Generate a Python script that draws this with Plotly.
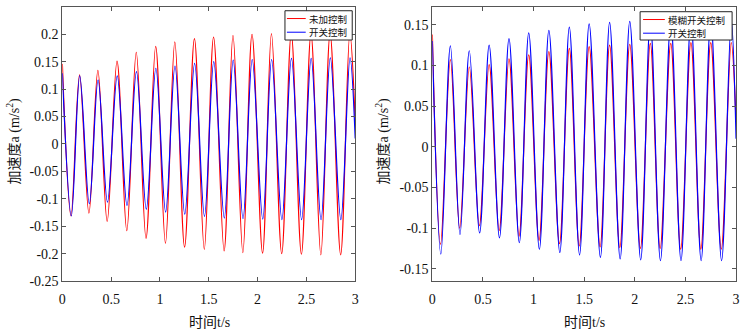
import plotly.graph_objects as go

# ---------------- data ----------------
# Left panel: 未加控制 (red) vs 开关控制 (blue)
L_red_start, L_red_end = 0.146, 0.040
L_blue_start, L_blue_end = 0.129, 0.010
L_red_trough_t = [0.088, 0.272, 0.459, 0.660, 0.857, 1.056, 1.252, 1.454, 1.657, 1.849, 2.051, 2.247, 2.449, 2.648, 2.851]
L_red_trough_v = [-0.131, -0.126, -0.141, -0.158, -0.172, -0.181, -0.188, -0.192, -0.195, -0.198, -0.199, -0.200, -0.201, -0.202, -0.202]
L_red_peak_t = [0.176, 0.364, 0.560, 0.757, 0.956, 1.152, 1.353, 1.549, 1.748, 1.943, 2.142, 2.345, 2.547, 2.743, 2.945]
L_red_peak_v = [0.126, 0.134, 0.151, 0.167, 0.178, 0.186, 0.192, 0.195, 0.198, 0.200, 0.201, 0.201, 0.201, 0.201, 0.201]
L_blue_trough_t = [0.092, 0.276, 0.462, 0.662, 0.860, 1.058, 1.254, 1.456, 1.659, 1.851, 2.053, 2.249, 2.451, 2.650, 2.853]
L_blue_trough_v = [-0.131, -0.109, -0.106, -0.112, -0.119, -0.124, -0.128, -0.132, -0.135, -0.136, -0.137, -0.138, -0.138, -0.138, -0.138]
L_blue_peak_t = [0.178, 0.366, 0.562, 0.759, 0.958, 1.154, 1.355, 1.551, 1.750, 1.945, 2.144, 2.347, 2.549, 2.745, 2.947]
L_blue_peak_v = [0.124, 0.117, 0.124, 0.132, 0.138, 0.142, 0.147, 0.150, 0.153, 0.154, 0.154, 0.156, 0.156, 0.157, 0.157]

# Right panel: 模糊开关控制 (red) vs 开关控制 (blue)
R_red_start, R_red_end = 0.138, 0.030
R_blue_start, R_blue_end = 0.130, 0.010
R_red_trough_t = [0.081, 0.270, 0.464, 0.660, 0.856, 1.054, 1.256, 1.451, 1.657, 1.852, 2.055, 2.250, 2.453, 2.652, 2.854]
R_red_trough_v = [-0.120, -0.100, -0.097, -0.103, -0.110, -0.115, -0.119, -0.122, -0.123, -0.124, -0.125, -0.125, -0.126, -0.126, -0.126]
R_red_peak_t = [0.178, 0.365, 0.561, 0.757, 0.952, 1.151, 1.353, 1.549, 1.751, 1.950, 2.153, 2.355, 2.554, 2.750, 2.952]
R_red_peak_v = [0.107, 0.098, 0.101, 0.108, 0.113, 0.117, 0.121, 0.123, 0.125, 0.126, 0.127, 0.127, 0.128, 0.128, 0.128]
R_blue_trough_t = [0.084, 0.273, 0.467, 0.663, 0.859, 1.057, 1.259, 1.454, 1.660, 1.855, 2.058, 2.253, 2.456, 2.655, 2.857]
R_blue_trough_v = [-0.132, -0.108, -0.106, -0.112, -0.118, -0.126, -0.130, -0.133, -0.136, -0.138, -0.139, -0.140, -0.140, -0.140, -0.140]
R_blue_peak_t = [0.178, 0.365, 0.561, 0.757, 0.952, 1.151, 1.353, 1.549, 1.751, 1.950, 2.153, 2.355, 2.554, 2.750, 2.952]
R_blue_peak_v = [0.124, 0.118, 0.125, 0.133, 0.140, 0.143, 0.147, 0.151, 0.153, 0.154, 0.155, 0.155, 0.156, 0.156, 0.156]

x_tickvals = [0, 0.5, 1, 1.5, 2, 2.5, 3]
x_ticktext = ["0", "0.5", "1", "1.5", "2", "2.5", "3"]
L_y_tickvals = [0.25, 0.2, 0.15, 0.1, 0.05, 0, -0.05, -0.1, -0.15, -0.2, -0.25]
L_y_ticktext = ["0.25", "0.2", "0.15", "0.1", "0.05", "0", "-0.05", "-0.1", "-0.15", "-0.2", "-0.25"]
R_y_tickvals = [0.15, 0.1, 0.05, 0, -0.05, -0.1, -0.15]
R_y_ticktext = ["0.15", "0.1", "0.05", "0", "-0.05", "-0.1", "-0.15"]

L_names = ["未加控制", "开关控制"]
R_names = ["模糊开关控制", "开关控制"]
x_title = "时间t/s"
y_title = "加速度a (m/s<sup>2</sup>)"


def series(start, trough_t, trough_v, peak_t, peak_v, end, t_end=3.0):
    xs, ys = [0.0], [start]
    for tt, tv, pt, pv in zip(trough_t, trough_v, peak_t, peak_v):
        xs += [tt, pt]
        ys += [tv, pv]
    xs.append(t_end)
    ys.append(end)
    return xs, ys


RED = "#FF0000"
BLUE = "#0000FF"
LW = 1.2
W, H = 746, 335

fig = go.Figure()
lx, ly = series(L_red_start, L_red_trough_t, L_red_trough_v, L_red_peak_t, L_red_peak_v, L_red_end)
fig.add_trace(go.Scatter(x=lx, y=ly, name=L_names[0], mode="lines",
                         line=dict(color=RED, width=LW, shape="spline", smoothing=1), xaxis="x", yaxis="y"))
lx, ly = series(L_blue_start, L_blue_trough_t, L_blue_trough_v, L_blue_peak_t, L_blue_peak_v, L_blue_end)
fig.add_trace(go.Scatter(x=lx, y=ly, name=L_names[1], mode="lines",
                         line=dict(color=BLUE, width=LW, shape="spline", smoothing=1), xaxis="x", yaxis="y"))
rx, ry = series(R_red_start, R_red_trough_t, R_red_trough_v, R_red_peak_t, R_red_peak_v, R_red_end)
fig.add_trace(go.Scatter(x=rx, y=ry, name=R_names[0], mode="lines",
                         line=dict(color=RED, width=LW, shape="spline", smoothing=1), xaxis="x2", yaxis="y2"))
rx, ry = series(R_blue_start, R_blue_trough_t, R_blue_trough_v, R_blue_peak_t, R_blue_peak_v, R_blue_end)
fig.add_trace(go.Scatter(x=rx, y=ry, name=R_names[1], mode="lines",
                         line=dict(color=BLUE, width=LW, shape="spline", smoothing=1), xaxis="x2", yaxis="y2"))

FONT = "Liberation Serif, Times New Roman, Noto Sans CJK SC, serif"
AX = "#555555"
ydom = [(H - 288) / H, (H - 7) / H]
common_x = dict(range=[0, 3], tickvals=x_tickvals, ticktext=x_ticktext, showgrid=False, zeroline=False,
                showline=True, linecolor=AX, linewidth=1, mirror="ticks", ticks="inside", ticklen=4,
                tickcolor=AX, ticklabelstandoff=5, tickfont=dict(family=FONT, size=14, color="#111"))
common_y = dict(showgrid=False, zeroline=False, showline=True, linecolor=AX, linewidth=1, mirror="ticks",
                ticks="inside", ticklen=4, tickcolor=AX, tickfont=dict(family=FONT, size=14, color="#111"))

fig.update_layout(
    width=W, height=H, margin=dict(l=0, r=0, t=0, b=0, pad=0),
    paper_bgcolor="white", plot_bgcolor="white", showlegend=False,
    xaxis=dict(domain=[59 / W, 355 / W], anchor="y", **common_x),
    yaxis=dict(domain=ydom, anchor="x", range=[-0.25, 0.25], tickvals=L_y_tickvals, ticktext=L_y_ticktext, **common_y),
    xaxis2=dict(domain=[433 / W, 740 / W], anchor="y2", **common_x),
    yaxis2=dict(domain=ydom, anchor="x2", range=[-0.1652, 0.172], tickvals=R_y_tickvals, ticktext=R_y_ticktext, **common_y),
)


def px(xp):
    return xp / W


def py(yp):
    return (H - yp) / H


tfont = dict(family=FONT, size=14, color="#111")
ann = [
    dict(x=px(208), y=py(330), text=x_title),
    dict(x=px(587), y=py(330), text=x_title),
    dict(x=px(10), y=py(144), text=y_title, textangle=-90),
    dict(x=px(383), y=py(144), text=y_title, textangle=-90),
]
for a in ann:
    fig.add_annotation(xref="paper", yref="paper", showarrow=False, font=tfont,
                       xanchor="center", yanchor="middle", **a)

# legends (box, line samples, labels)
lfont = dict(family="Noto Sans CJK SC, sans-serif", size=9.5, color="#111")
legends = [
    dict(box=(284, 11, 352, 41), line=(286, 305), text_x=307, names=L_names),
    dict(box=(643, 12, 736, 41), line=(646, 668), text_x=670, names=R_names),
]
for lg in legends:
    x0, y0, x1, y1 = lg["box"]
    fig.add_shape(type="rect", xref="paper", yref="paper", x0=px(x0), x1=px(x1), y0=py(y1), y1=py(y0),
                  line=dict(color="#222", width=1), fillcolor="white", layer="above")
    rows = [y0 + 8, y0 + 22]
    for (row, col, name) in zip(rows, [RED, BLUE], lg["names"]):
        fig.add_shape(type="line", xref="paper", yref="paper", x0=px(lg["line"][0]), x1=px(lg["line"][1]),
                      y0=py(row), y1=py(row), line=dict(color=col, width=1), layer="above")
        fig.add_annotation(xref="paper", yref="paper", x=px(lg["text_x"]), y=py(row), text=name,
                           showarrow=False, xanchor="left", yanchor="middle", font=lfont, borderpad=0)

fig.write_html("out.html", config={"displayModeBar": False})

# remove the browser's default 8px body margin so the figure sits at the page origin
with open("out.html", "r", encoding="utf-8") as f:
    html = f.read()
html = html.replace("<head>", "<head><style>html,body{margin:0;padding:0;overflow:hidden;}</style>", 1)
with open("out.html", "w", encoding="utf-8") as f:
    f.write(html)
